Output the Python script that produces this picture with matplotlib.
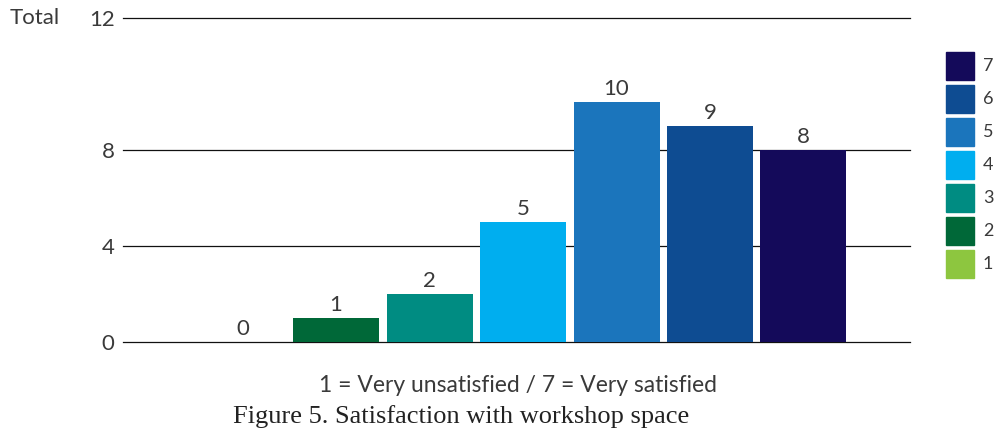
import matplotlib
matplotlib.use("Agg")
import matplotlib.pyplot as plt
from matplotlib.patches import Rectangle

# Survey responses per rating (1 = very unsatisfied ... 7 = very satisfied)
ratings = ["1", "2", "3", "4", "5", "6", "7"]
counts = [0, 1, 2, 5, 10, 9, 8]
colors = ["#8DC63F", "#006838", "#008C82", "#00AEEF", "#1B75BC", "#0E4C92", "#140A5A"]
y_tick_labels = ["0", "4", "8", "12"]

W, H = 994, 437
fig = plt.figure(figsize=(W / 100, H / 100), dpi=100)
plt.rcParams["font.family"] = ["Lato", "DejaVu Sans"]
text_color = "#3a3a3a"

ax = fig.add_axes([123 / W, 1 - 342 / H, (910 - 123) / W, (342 - 18) / H])
x = list(range(len(ratings)))
ax.bar(x, counts, width=0.92, color=colors, zorder=3)
for xi, v in zip(x, counts):
    ax.text(xi, v + 0.14, str(v), ha="center", va="bottom", fontsize=16, color=text_color)

ax.set_xlim(-1.28, 7.14)
ax.set_ylim(0, 13.5)
# the top rule sits on the frame edge and carries the "12" label
y_pos = [0, 4, 8, ax.get_ylim()[1]]
ax.set_yticks(y_pos)
ax.set_yticklabels(y_tick_labels, fontsize=16, color=text_color)
for t in y_pos:
    ax.axhline(t, color="#111111", lw=0.9, zorder=2, clip_on=False)
ax.tick_params(axis="y", length=0, pad=6)
ax.set_xticks([])
for s in ax.spines.values():
    s.set_visible(False)

fig.text(10 / W, 1 - 18 / H, "Total", fontsize=16, color=text_color, ha="left", va="center")

# Legend squares, top to bottom from 7 down to 1
sq = 28
for i, (lab, c) in enumerate(zip(ratings[::-1], colors[::-1])):
    top = 52 + i * 33
    fig.patches.append(Rectangle((946 / W, 1 - (top + sq) / H), sq / W, sq / H,
                                 transform=fig.transFigure, color=c))
    fig.text(983 / W, 1 - (top + sq / 2) / H, lab, fontsize=13, color=text_color,
             ha="left", va="center")

fig.text(518 / W, 1 - 386 / H, "1 = Very unsatisfied / 7 = Very satisfied",
         fontsize=16.5, color=text_color, ha="center", va="center")
fig.text(461 / W, 1 - 417 / H, "Figure 5. Satisfaction with workshop space",
         fontsize=19, color="#222222", ha="center", va="center",
         family="Liberation Serif")

fig.savefig("out.png", dpi=100)
